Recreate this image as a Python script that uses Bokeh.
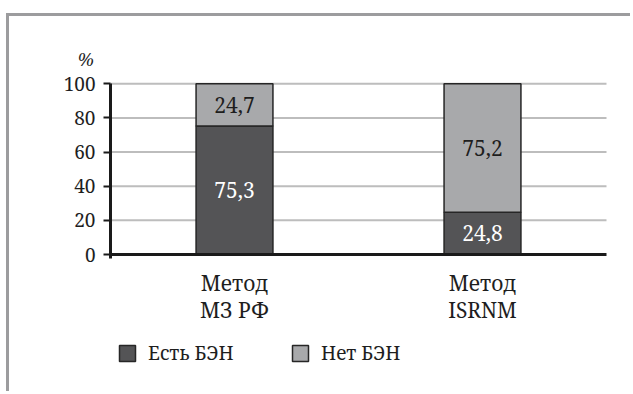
from bokeh.plotting import figure
from bokeh.models import (ColumnDataSource, Range1d, Legend, LegendItem,
                          Label, LabelSet, FixedTicker, LinearAxis)
from bokeh.core.properties import value
from bokeh.embed import file_html
from bokeh.resources import INLINE

# Share of patients with / without BEN by assessment method, %
methods = ["Метод\nМЗ РФ", "Метод\nISRNM"]
has_ben = [75.3, 24.8]
no_ben = [24.7, 75.2]
series_names = ["Есть БЭН", "Нет БЭН"]
y_ticks = [0, 20, 40, 60, 80, 100]

DARK = "#545456"
LIGHT = "#a8a9ab"
EDGE = "#262626"
AXIS = "#1a1a1a"
TEXT = "#1e1e1e"
FONT = "Noto Serif"

xpos = [i + 0.5 for i in range(len(methods))]
x_end = float(len(methods))


def fmt(v):
    return f"{v:.1f}".replace(".", ",")


src = ColumnDataSource(dict(x=xpos, has=has_ben, no=no_ben))

p = figure(
    width=624, height=378,
    x_range=Range1d(-0.4073, 2.1089),
    y_range=Range1d(-82.0, 139.4),
    x_axis_type=None, y_axis_type=None,
    output_backend="svg", toolbar_location=None,
    min_border=0,
)
p.margin = (13, 0, 0, 6)
p.styles = {"border-top": "3px solid #9c9c9e", "border-left": "3px solid #9c9c9e"}
p.outline_line_color = None
p.background_fill_color = "white"
p.border_fill_color = "white"
p.xgrid.visible = False
p.ygrid.visible = False

# horizontal grid lines across the plotting area
grid_y = [t for t in y_ticks if t > 0]
p.segment(x0=[0] * len(grid_y), x1=[x_end] * len(grid_y), y0=grid_y, y1=grid_y,
          line_color="#bdbdbd", line_width=2)

bars = p.vbar_stack(["has", "no"], x="x", width=0.31, source=src,
                    color=[DARK, LIGHT], line_color=EDGE, line_width=1.5)

# value labels centred in each segment
lab_src = ColumnDataSource(dict(
    x=xpos + xpos,
    y=[v / 2 for v in has_ben] + [h + n / 2 for h, n in zip(has_ben, no_ben)],
    text=[fmt(v) for v in has_ben] + [fmt(v) for v in no_ben],
    color=["white"] * len(has_ben) + [TEXT] * len(no_ben),
))
p.add_layout(LabelSet(x="x", y="y", text="text", source=lab_src,
                      text_align="center", text_baseline="middle",
                      text_color="color", text_font=value(FONT),
                      text_font_size="21px"))

# y axis crossing at x = 0
yax = LinearAxis(fixed_location=0, ticker=FixedTicker(ticks=y_ticks),
                 bounds=(-2.4, 100))
yax.axis_line_color = AXIS
yax.axis_line_width = 3
yax.major_tick_line_color = AXIS
yax.major_tick_line_width = 2
yax.major_tick_out = 7
yax.major_tick_in = 0
yax.minor_tick_line_color = None
yax.major_label_standoff = 8
yax.major_label_text_font = FONT
yax.major_label_text_font_size = "19px"
yax.major_label_text_color = TEXT
p.add_layout(yax, "left")

# category axis along y = 0
xax = LinearAxis(fixed_location=0, ticker=FixedTicker(ticks=xpos),
                 bounds=(0, x_end))
xax.major_label_overrides = {x: m for x, m in zip(xpos, methods)}
xax.axis_line_color = AXIS
xax.axis_line_width = 3
xax.major_tick_line_color = None
xax.minor_tick_line_color = None
xax.major_tick_out = 0
xax.major_tick_in = 0
xax.major_label_standoff = 14
xax.major_label_text_font = FONT
xax.major_label_text_font_size = "21px"
xax.major_label_text_color = TEXT
xax.major_label_text_line_height = 0.99
p.add_layout(xax, "below")

# unit label above the y axis
p.add_layout(Label(x=-0.1, y=114.8, text="%", text_align="center",
                   text_baseline="middle", text_font=FONT,
                   text_font_style="italic", text_font_size="18px",
                   text_color=TEXT))

# legend entries below the chart
for i, (name, r) in enumerate(zip(series_names, bars)):
    leg = Legend(items=[LegendItem(label=name, renderers=[r])],
                 location=([108, 281][i], 28), orientation="horizontal",
                 padding=0, margin=0, spacing=0,
                 glyph_width=20, glyph_height=20, label_standoff=11,
                 label_height=20,
                 label_text_font=FONT, label_text_font_size="19px",
                 label_text_color=TEXT,
                 border_line_color=None, background_fill_alpha=0)
    p.add_layout(leg, "center")

open("out.html", "w").write(file_html(p, INLINE))
